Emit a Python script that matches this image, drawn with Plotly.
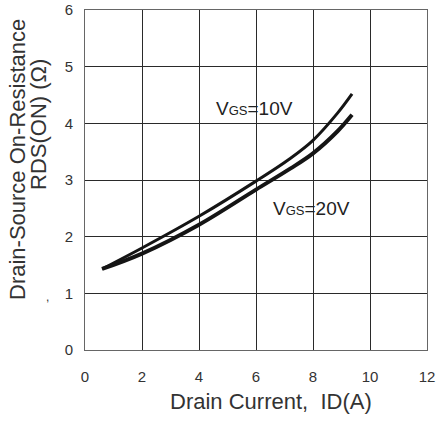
import plotly.graph_objects as go

# Data
id_10v = [0.6, 2, 4, 6, 7.2, 8, 8.86, 9.37]
rds_10v = [1.43, 1.80, 2.36, 2.98, 3.38, 3.70, 4.18, 4.52]
id_20v = [0.6, 2, 4, 6, 7.2, 8, 8.86, 9.37]
rds_20v = [1.43, 1.70, 2.21, 2.83, 3.20, 3.47, 3.86, 4.15]

x_ticks = [0, 2, 4, 6, 8, 10, 12]
y_ticks = [0, 1, 2, 3, 4, 5, 6]

fig = go.Figure()
fig.add_trace(go.Scatter(x=id_10v, y=rds_10v, mode="lines",
                         line=dict(color="#151515", width=3, shape="spline", smoothing=1.0),
                         showlegend=False))
fig.add_trace(go.Scatter(x=id_20v, y=rds_20v, mode="lines",
                         line=dict(color="#151515", width=4, shape="spline", smoothing=1.0),
                         showlegend=False))

font_family = "Liberation Sans, Arial, sans-serif"

axis_common = dict(showgrid=True, gridcolor="#2a2a2a", gridwidth=1, automargin=False,
                   zeroline=False, showline=True, mirror=True, linecolor="#666", linewidth=1,
                   ticks="", tickfont=dict(size=15, color="#333"))

fig.update_layout(
    width=438, height=421,
    margin=dict(l=85, r=11, t=10, b=71),
    paper_bgcolor="white", plot_bgcolor="white",
    font=dict(family=font_family, color="#333"),
    xaxis=dict(range=[0, 12], tickvals=x_ticks, ticklabelstandoff=13, **axis_common),
    yaxis=dict(range=[0, 6], tickvals=y_ticks, ticklabelstandoff=8, **axis_common),
)

W = 342
H = 340
annotations = [
    dict(x=5.96, y=4.27, xref="x", yref="y", showarrow=False,
         text="V<span style='font-size:13px'>GS</span>=10V", font=dict(size=19, color="#222")),
    dict(x=7.95, y=2.5, xref="x", yref="y", showarrow=False,
         text="V<span style='font-size:13px'>GS</span>=20V", font=dict(size=19, color="#222")),
    dict(x=(17 - 85) / W, y=(350 - 160) / H, xref="paper", yref="paper", showarrow=False,
         textangle=-90, text="Drain-Source On-Resistance",
         font=dict(size=22, color="#333"), xanchor="center", yanchor="middle"),
    dict(x=(38 - 85) / W, y=(350 - 125) / H, xref="paper", yref="paper", showarrow=False,
         textangle=-90, text="RDS(ON) (Ω)",
         font=dict(size=22, color="#333"), xanchor="center", yanchor="middle"),
    dict(x=(271 - 85) / W, y=(350 - 402) / H, xref="paper", yref="paper", showarrow=False,
         text="Drain Current,&nbsp; ID(A)", font=dict(size=22, color="#333"),
         xanchor="center", yanchor="middle"),
    dict(x=(47 - 85) / W, y=(350 - 297) / H, xref="paper", yref="paper", showarrow=False,
         text=",", font=dict(size=12, color="#333"), xanchor="center", yanchor="middle"),
]
fig.update_layout(annotations=annotations)

fig.write_html("out.html", config={"displayModeBar": False},
               post_script="document.body.style.margin='0';document.body.style.overflow='hidden';")
